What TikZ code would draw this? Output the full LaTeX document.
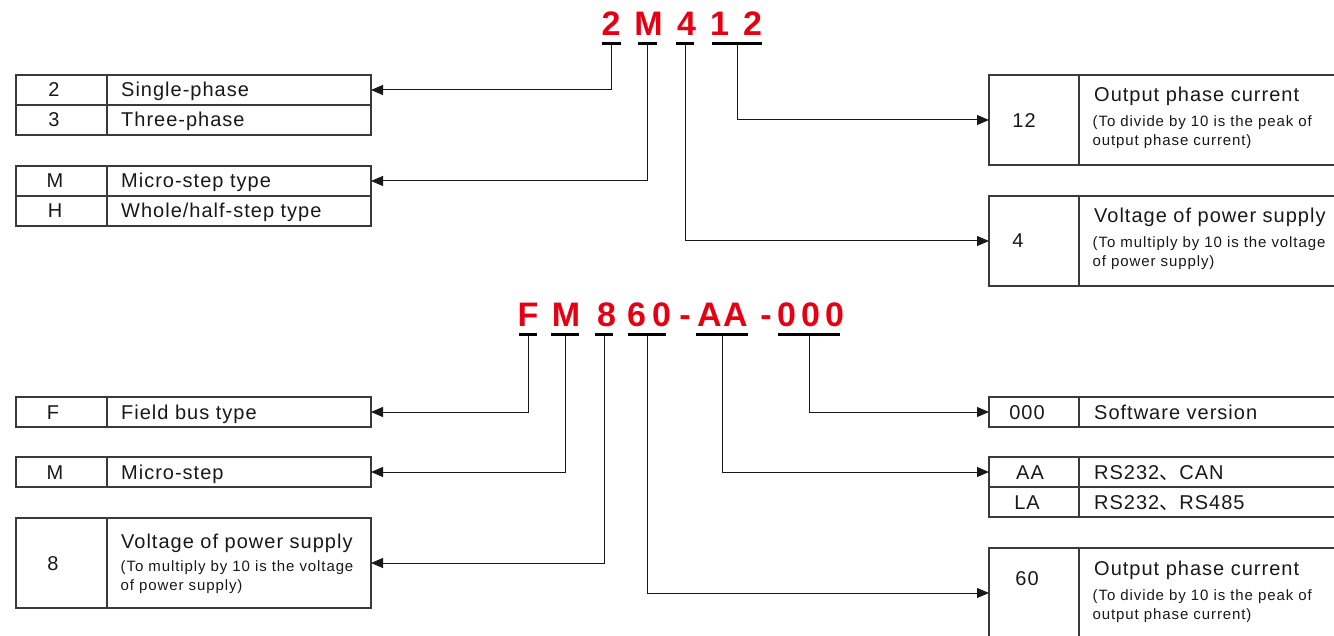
\documentclass[tikz,border=0pt]{standalone}
\usepackage{fontspec}
\setmainfont{Liberation Sans}
\newfontfamily\descfont[LetterSpace=5]{Liberation Sans}
\newfontfamily\notefont[LetterSpace=6]{Liberation Sans}
\newfontfamily\codefont{Liberation Sans}
\newfontfamily\cjkfont{Noto Sans CJK SC}
\usetikzlibrary{arrows.meta}
\definecolor{ink}{HTML}{1A1718}
\definecolor{codered}{HTML}{E60012}
\definecolor{rulec}{HTML}{3A3A3A}
\begin{document}
\begin{tikzpicture}[x=1pt,y=-1pt,
  cell/.style={draw=rulec, line width=1.2pt, inner sep=0pt, outer sep=0pt, anchor=north west},
  desc/.style={font=\descfont\fontsize{20}{24}\selectfont, text=ink, anchor=base west, inner sep=0pt},
  keyt/.style={font=\descfont\fontsize{20}{24}\selectfont, text=ink, anchor=base, inner sep=0pt},
  note/.style={font=\notefont\fontsize{15}{18}\selectfont, text=ink, anchor=base west, inner sep=0pt},
  codech/.style={font=\codefont\bfseries\fontsize{34}{40}\selectfont, text=codered, anchor=base, inner sep=0pt},
  uline/.style={fill=black, minimum height=2.6pt, inner sep=0pt, outer sep=0pt},
  conn/.style={draw=ink, line width=1pt, -{Triangle[length=12pt,width=10pt]}}]
\useasboundingbox (0,0) rectangle (1334,636);
\clip (0,0) rectangle (1334,636);

% ---------- code 2M412 ----------
\foreach \x/\c [count=\i] in {611/2,648.5/M,686.5/4,719.5/1,752.5/2}
  \node[codech] (ca\i) at (\x,36) {\c};
\node[uline, minimum width=19pt] (u2)  at (611.5,43.5) {};
\node[uline, minimum width=19pt] (uM)  at (647.5,43.5) {};
\node[uline, minimum width=18pt] (u4)  at (685,43.5) {};
\node[uline, minimum width=50pt] (u12) at (737,43.5) {};

% ---------- code FM860-AA-000 ----------
\foreach \x/\c [count=\i] in {528/F,566/M,606.5/8,636.5/6,661.5/0,685/-,709.5/A,735.5/A,766/-,786.5/0,810.5/0,834.5/0}
  \node[codech] (cb\i) at (\x,327) {\c};
\node[uline, minimum width=18pt] (uF)   at (528,334.5) {};
\node[uline, minimum width=28pt] (uMb)  at (565,334.5) {};
\node[uline, minimum width=18pt] (u8)   at (604,334.5) {};
\node[uline, minimum width=38pt] (u60)  at (647,334.5) {};
\node[uline, minimum width=52pt] (uAA)  at (722,334.5) {};
\node[uline, minimum width=62pt] (u000) at (809,334.5) {};

% ---------- left cells ----------
\node[cell, minimum width=91pt, minimum height=30pt] (k21) at (16,75) {};
\node[cell, minimum width=264pt, minimum height=30pt] (d21) at (107,75) {};
\node[cell, minimum width=91pt, minimum height=30pt] (k31) at (16,105) {};
\node[cell, minimum width=264pt, minimum height=30pt] (d31) at (107,105) {};
\node[cell, minimum width=91pt, minimum height=30pt] (kM) at (16,166) {};
\node[cell, minimum width=264pt, minimum height=30pt] (dM) at (107,166) {};
\node[cell, minimum width=91pt, minimum height=30pt] (kH) at (16,196) {};
\node[cell, minimum width=264pt, minimum height=30pt] (dH) at (107,196) {};
\node[cell, minimum width=91pt, minimum height=30pt] (kF) at (16,397) {};
\node[cell, minimum width=264pt, minimum height=30pt] (dF) at (107,397) {};
\node[cell, minimum width=91pt, minimum height=30pt] (kMs) at (16,457) {};
\node[cell, minimum width=264pt, minimum height=30pt] (dMs) at (107,457) {};
\node[cell, minimum width=91pt, minimum height=90pt] (k8) at (16,518) {};
\node[cell, minimum width=264pt, minimum height=90pt] (d8) at (107,518) {};

% ---------- right cells ----------
\node[cell, minimum width=90pt, minimum height=90pt] (r12k) at (989,75) {};
\node[cell, minimum width=260pt, minimum height=90pt] (r12d) at (1079,75) {};
\node[cell, minimum width=90pt, minimum height=90pt] (r4k) at (989,196) {};
\node[cell, minimum width=260pt, minimum height=90pt] (r4d) at (1079,196) {};
\node[cell, minimum width=90pt, minimum height=30pt] (r0k) at (989,397) {};
\node[cell, minimum width=260pt, minimum height=30pt] (r0d) at (1079,397) {};
\node[cell, minimum width=90pt, minimum height=30pt] (rAk) at (989,457) {};
\node[cell, minimum width=260pt, minimum height=30pt] (rAd) at (1079,457) {};
\node[cell, minimum width=90pt, minimum height=30pt] (rLk) at (989,487) {};
\node[cell, minimum width=260pt, minimum height=30pt] (rLd) at (1079,487) {};
\node[cell, minimum width=90pt, minimum height=90pt] (r60k) at (989,548) {};
\node[cell, minimum width=260pt, minimum height=90pt] (r60d) at (1079,548) {};

% ---------- left texts ----------
\node[keyt] (tk1) at (54,97) {2};
\node[desc] (td1) at (121,97) {Single-phase};
\node[keyt] (tk2) at (54,127) {3};
\node[desc] (td2) at (121,127) {Three-phase};
\node[keyt] (tk3) at (55,188) {M};
\node[desc] (td3) at (121,188) {Micro-step type};
\node[keyt] (tk4) at (55,218) {H};
\node[desc] (td4) at (121,218) {Whole/half-step type};
\node[keyt] (tk5) at (53,419) {F};
\node[desc] (td5) at (121,419) {Field bus type};
\node[keyt] (tk6) at (55,479) {M};
\node[desc] (td6) at (121,479) {Micro-step};
\node[keyt] (tk7) at (53,570) {8};
\node[desc] (td7) at (121,548) {Voltage of power supply};
\node[note] (tn7a) at (120.5,571) {(To multiply by 10 is the voltage};
\node[note] (tn7b) at (120.5,590) {of power supply)};

% ---------- right texts ----------
\node[keyt] (rk1) at (1024,128) {12};
\node[desc] (rd1) at (1094,102) {Output phase current};
\node[note] (rn1a) at (1092.5,127) {(To divide by 10 is the peak of};
\node[note] (rn1b) at (1092.5,146) {output phase current)};
\node[keyt] (rk2) at (1018,248) {4};
\node[desc] (rd2) at (1094,223) {Voltage of power supply};
\node[note] (rn2a) at (1092.5,248) {(To multiply by 10 is the voltage};
\node[note] (rn2b) at (1092.5,267) {of power supply)};
\node[keyt] (rk3) at (1027,419) {000};
\node[desc] (rd3) at (1094,419) {Software version};
\node[keyt] (rk4) at (1030,479) {AA};
\node[desc] (rd4) at (1094,479) {RS232{\cjkfont 、}CAN};
\node[keyt] (rk5) at (1027,509) {LA};
\node[desc] (rd5) at (1094,509) {RS232{\cjkfont 、}RS485};
\node[keyt] (rk6) at (1027,585) {60};
\node[desc] (rd6) at (1094,575.5) {Output phase current};
\node[note] (rn6a) at (1092.5,600) {(To divide by 10 is the peak of};
\node[note] (rn6b) at (1092.5,619) {output phase current)};

% ---------- connectors ----------
\draw[conn] (u2.south) |- (d21.east);
\draw[conn] (uM.south) |- (dM.east);
\draw[conn] (u4.south) |- (r4k.west);
\draw[conn] (u12.south) |- (r12k.west);
\draw[conn] (uF.south) |- (dF.east);
\draw[conn] (uMb.south) |- (dMs.east);
\draw[conn] (u8.south) |- (d8.east);
\draw[conn] (u60.south) |- (r60k.west);
\draw[conn] (uAA.south) |- (rAk.west);
\draw[conn] (u000.south) |- (r0k.west);
\end{tikzpicture}
\end{document}
